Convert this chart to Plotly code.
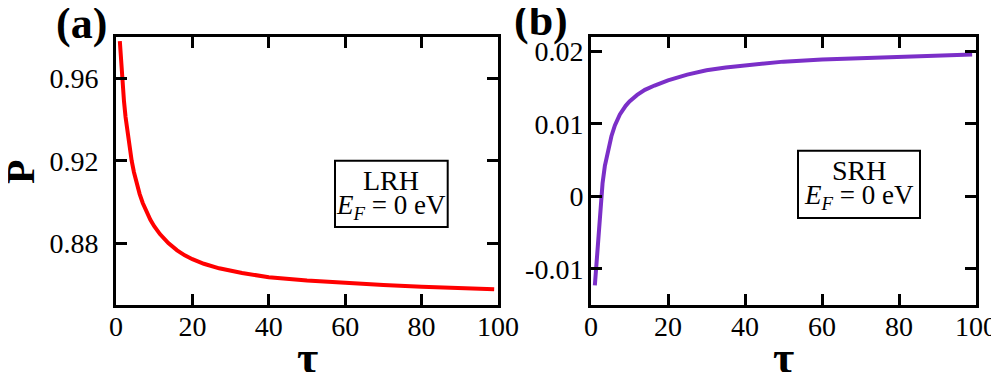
import plotly.graph_objects as go

# panel (a): LRH, E_F = 0 eV
tau_a = [1, 1.3, 1.7, 2.1, 2.5, 3, 3.5, 4.1, 4.7, 5.4, 6.2, 7, 8, 9, 10, 11.5, 13.7, 16, 18, 20,
         23, 27, 33, 40, 50, 60, 70, 80, 90, 99]
p_a = [0.978, 0.9684, 0.9577, 0.9487, 0.9412, 0.9333, 0.9267, 0.920, 0.9144, 0.909, 0.9038,
       0.8995, 0.895, 0.8913, 0.8882, 0.8844, 0.880, 0.8765, 0.8741, 0.8722, 0.870, 0.8678,
       0.8655, 0.8635, 0.8619, 0.8607, 0.8597, 0.8589, 0.8582, 0.8576]

# panel (b): SRH, E_F = 0 eV
tau_b = [1, 1.4, 2, 2.6, 3, 3.6, 4.5, 5.3, 6.2, 7.5, 9, 10, 12, 14, 16.5, 20, 25, 30, 35, 40,
         50, 60, 70, 80, 90, 99]
p_b = [-0.0123, -0.0094, -0.0050, -0.0005, 0.0018, 0.0042, 0.0066, 0.0083, 0.0098, 0.0113,
       0.0125, 0.0131, 0.0140, 0.0147, 0.0153, 0.0160, 0.0168, 0.0174, 0.0178, 0.0181,
       0.0186, 0.0189, 0.0191, 0.0193, 0.0195, 0.0196]

x_ticks = [0, 20, 40, 60, 80, 100]
ya_ticks = [0.88, 0.92, 0.96]
yb_ticks = [-0.01, 0, 0.01, 0.02]
yb_labels = ["-0.01", "0", "0.01", "0.02"]

FONT = "Liberation Serif"
# the page body has an 8px margin, so the figure is drawn 8px in from the window edge
OFF = 8
W, H = 999 - OFF, 372 - OFF


def fx(px):
    return (px - OFF) / W


def fy(py):
    return 1 - (py - OFF) / H


fig = go.Figure()
fig.add_trace(go.Scatter(x=tau_a, y=p_a, mode="lines", line=dict(color="#ff0000", width=4),
                         xaxis="x", yaxis="y", showlegend=False))
fig.add_trace(go.Scatter(x=tau_b, y=p_b, mode="lines", line=dict(color="#7b2fc8", width=4),
                         xaxis="x2", yaxis="y2", showlegend=False))

axis_common = dict(showline=True, linecolor="black", linewidth=3, mirror="ticks",
                   ticks="inside", ticklen=11, tickwidth=3, tickcolor="black",
                   showgrid=False, zeroline=False,
                   tickfont=dict(family=FONT, size=28, color="black"))

fig.update_layout(
    width=W, height=H,
    margin=dict(l=0, r=0, t=0, b=0, autoexpand=False),
    paper_bgcolor="white", plot_bgcolor="white",
    xaxis=dict(domain=[fx(116), fx(498)], range=[0, 100], tickvals=x_ticks, anchor="y",
               ticklabelstandoff=-6, **axis_common),
    yaxis=dict(domain=[fy(305), fy(37)], range=[0.85, 0.98], tickvals=ya_ticks, tickformat=".2f",
               anchor="x", ticklabelstandoff=9, **axis_common),
    xaxis2=dict(domain=[fx(591), fx(976)], range=[0, 100], tickvals=x_ticks, anchor="y2",
                ticklabelstandoff=-6, **axis_common),
    yaxis2=dict(domain=[fy(305), fy(37)], range=[-0.015, 0.022], tickvals=yb_ticks, ticktext=yb_labels,
                anchor="x2", ticklabelstandoff=-1, **axis_common),
)


def text(x, y, s, size, bold=False, angle=0):
    fig.add_annotation(x=fx(x), y=fy(y), xref="paper", yref="paper", text=s, showarrow=False,
                       xanchor="center", yanchor="middle", textangle=angle,
                       font=dict(family=FONT, size=size, color="black"))


# boxed labels
for x0, x1, y0, y1 in [(335, 447.7, 160.7, 227), (798, 920, 150.7, 218)]:
    fig.add_shape(type="rect", xref="paper", yref="paper", x0=fx(x0), x1=fx(x1), y0=fy(y1), y1=fy(y0),
                  line=dict(color="black", width=2), fillcolor="white")

text(391.4, 180, "LRH", 28)
text(391.4, 207, "<i>E</i><sub><i>F</i></sub> = 0 eV", 27)
text(859, 170, "SRH", 28)
text(859, 197, "<i>E</i><sub><i>F</i></sub> = 0 eV", 27)

# panel letters
text(81, 24, "<b>(a)</b>", 44)
text(541, 21, "<b>(b)</b>", 44)

# axis titles
text(307, 357, "<b>τ</b>", 46)
text(783, 357, "<b>τ</b>", 46)
text(21, 172, "<b>P</b>", 40, angle=-90)

fig.write_html("out.html")
